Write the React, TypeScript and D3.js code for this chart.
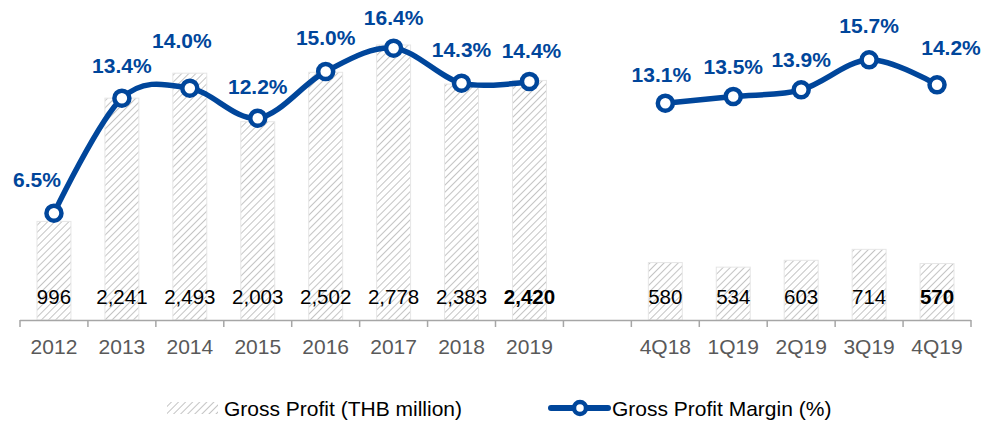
import * as d3 from 'd3';

const years = ['2012', '2013', '2014', '2015', '2016', '2017', '2018', '2019'];
const quarters = ['4Q18', '1Q19', '2Q19', '3Q19', '4Q19'];

const profitYears = [996, 2241, 2493, 2003, 2502, 2778, 2383, 2420];
const profitQuarters = [580, 534, 603, 714, 570];

const marginYears = [6.5, 13.4, 14.0, 12.2, 15.0, 16.4, 14.3, 14.4];
const marginQuarters = [13.1, 13.5, 13.9, 15.7, 14.2];

// hand-placed label nudges (like the original deck)
const yearLabelNudge: [number, number][] = [
  [-17, -26], [0, -25], [-8, -40], [0, -24], [0, -27], [0, -23], [0, -26], [2, -24],
];
const quarterLabelNudge: [number, number][] = [[-4, -21], [0, -23], [0, -23], [0, -27], [14, -30]];

const GAP = '__gap__';
const categories = [...years, GAP, ...quarters];

const width = 987;
const height = 421;
const blue = '#00469b';
const font = '"Liberation Sans", Arial, sans-serif';

interface Point {
  cat: string;
  profit: number;
  margin: number;
  bold: boolean;
}

const toPoints = (cats: string[], profit: number[], margin: number[]): Point[] =>
  cats.map((c, i) => ({ cat: c, profit: profit[i], margin: margin[i], bold: i === cats.length - 1 }));

const annual = toPoints(years, profitYears, marginYears);
const quarterly = toPoints(quarters, profitQuarters, marginQuarters);

export default function App() {
  const x = d3.scaleBand<string>().domain(categories).range([20, 971]).padding(0);
  const yBar = d3.scaleLinear().domain([0, 3000]).range([320, 23]);
  const yPct = d3.scaleLinear().domain([0, 18]).range([321.5, 21.5]);
  const bw = x.bandwidth();
  const cx = (c: string) => (x(c) ?? 0) + bw / 2;

  const line = d3
    .line<Point>()
    .x((d) => cx(d.cat))
    .y((d) => yPct(d.margin))
    .curve(d3.curveCardinal.tension(0));

  // category boundaries (no tick in the middle of the gap)
  const ticks = [...categories.map((c) => x(c) ?? 0), x.range()[1]];

  const groups = [
    { pts: annual, nudge: yearLabelNudge },
    { pts: quarterly, nudge: quarterLabelNudge },
  ];

  return (
    <svg
      width={width}
      height={height}
      style={{ position: 'absolute', left: 0, top: 0, background: '#fff' }}
      fontFamily={font}
    >
      <defs>
        <pattern id="hatch" patternUnits="userSpaceOnUse" width={5} height={5} patternTransform="rotate(45)">
          <rect width={5} height={5} fill="#fff" />
          <line x1={0} y1={0} x2={0} y2={5} stroke="#c4c4c4" strokeWidth={2} />
        </pattern>
      </defs>

      {/* bars */}
      {[...annual, ...quarterly].map((d) => (
        <rect
          key={'b' + d.cat}
          x={(x(d.cat) ?? 0) + bw / 4}
          y={yBar(d.profit)}
          width={bw / 2}
          height={yBar(0) - yBar(d.profit)}
          fill="url(#hatch)"
          stroke="#e6e6e6"
          strokeWidth={1}
        />
      ))}

      {/* bar labels */}
      {[...annual, ...quarterly].map((d) => (
        <text
          key={'bl' + d.cat}
          x={cx(d.cat)}
          y={304}
          textAnchor="middle"
          fontSize={20.5}
          fontWeight={d.bold ? 'bold' : 'normal'}
          fill="#000"
        >
          {d3.format(',')(d.profit)}
        </text>
      ))}

      {/* axis */}
      <line x1={x.range()[0]} x2={x.range()[1]} y1={320.5} y2={320.5} stroke="#a6a6a6" strokeWidth={1.5} />
      {ticks.map((t, i) => (
        <line key={'t' + i} x1={t} x2={t} y1={320} y2={327} stroke="#a6a6a6" strokeWidth={1.5} />
      ))}
      {categories
        .filter((c) => c !== GAP)
        .map((c) => (
          <text key={'a' + c} x={cx(c)} y={354} textAnchor="middle" fontSize={21} fill="#595959">
            {c}
          </text>
        ))}

      {/* margin lines */}
      {groups.map((g, gi) => (
        <g key={'g' + gi}>
          <path d={line(g.pts) ?? ''} fill="none" stroke={blue} strokeWidth={5.5} strokeLinecap="round" />
          {g.pts.map((d) => (
            <circle key={'c' + d.cat} cx={cx(d.cat)} cy={yPct(d.margin)} r={7.5} fill="#fff" stroke={blue} strokeWidth={4.5} />
          ))}
          {g.pts.map((d, i) => (
            <text
              key={'l' + d.cat}
              x={cx(d.cat) + g.nudge[i][0]}
              y={yPct(d.margin) + g.nudge[i][1]}
              textAnchor="middle"
              fontSize={21}
              fontWeight="bold"
              fill={blue}
            >
              {d3.format('.1f')(d.margin) + '%'}
            </text>
          ))}
        </g>
      ))}

      {/* legend */}
      <rect x={167} y={402} width={51} height={12} fill="url(#hatch)" />
      <text x={224} y={416} fontSize={21} fill="#000">
        Gross Profit (THB million)
      </text>
      <line x1={551} x2={608} y1={408} y2={408} stroke={blue} strokeWidth={6} strokeLinecap="round" />
      <circle cx={580} cy={408} r={6} fill="#fff" stroke={blue} strokeWidth={4.5} />
      <text x={612} y={416} fontSize={21} fill="#000">
        Gross Profit Margin (%)
      </text>
    </svg>
  );
}
